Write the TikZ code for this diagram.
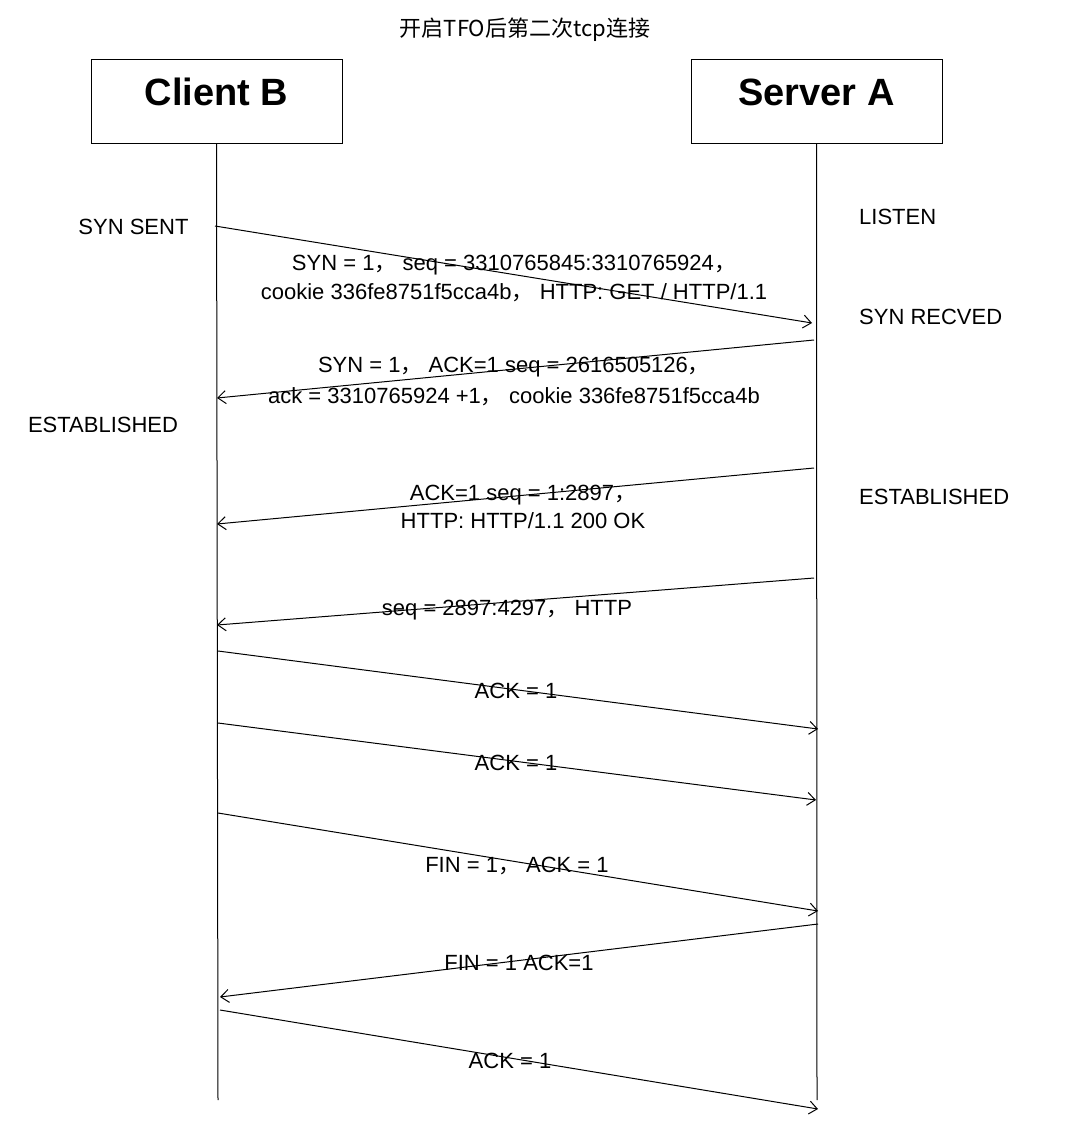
\documentclass[tikz,border=0pt]{standalone}
\usepackage{fontspec}
\setmainfont{Liberation Sans}
\newfontfamily\cjk{Noto Sans CJK SC}
\usetikzlibrary{arrows.meta}
\newcommand{\zc}{{\cjk ，}}

\begin{document}
\begin{tikzpicture}[x=1pt,y=-1pt,
	entity/.style={shape=rectangle,draw,line width=1pt,minimum width=251pt,minimum height=83pt,
		inner sep=0pt,text height=27pt,text depth=19.5pt,font=\bfseries\fontsize{38}{40}\selectfont},
	lifeline/.style={line width=1pt},
	msg/.style={-{Straight Barb[length=8pt,width=13pt]},line width=1pt},
	msglabel/.style={anchor=base,inner sep=0pt,align=center,font=\fontsize{22}{29}\selectfont},
	statelabel/.style={inner sep=0pt,font=\fontsize{22}{26}\selectfont}]
	\useasboundingbox (0,0) rectangle (1080,1129);

		\node (title) at (525,37) [anchor=base,inner sep=0pt,font=\cjk\fontsize{22}{26}\selectfont] {开启TFO后第二次tcp连接};
		\node (client) at (216.5,101.5) [entity] {Client B};
		\node (server) at (816.5,101.5) [entity] {Server A};

		% lifelines
		\coordinate (clientend) at (218,1100);
		\coordinate (serverend) at (817,1100);
		\draw [lifeline] (client.south) -- (clientend);
		\draw [lifeline] (server.south) -- (serverend);

		% states
		\node (synsent) at (133.5,234) [statelabel,anchor=base] {SYN SENT};
		\node (estclient) at (103,432) [statelabel,anchor=base] {ESTABLISHED};
		\node (listen) at (859,224) [statelabel,anchor=base west] {LISTEN};
		\node (synrecved) at (859,324) [statelabel,anchor=base west] {SYN RECVED};
		\node (estserver) at (859,504) [statelabel,anchor=base west] {ESTABLISHED};

		% message end points
		\coordinate (syn1) at (215,226);   \coordinate (syn2) at (812,323);
		\coordinate (synack1) at (814,340); \coordinate (synack2) at (217,398);
		\coordinate (resp1) at (814,468);  \coordinate (resp2) at (217,524);
		\coordinate (data1) at (814,578);  \coordinate (data2) at (217,625);
		\coordinate (acka1) at (218,651);  \coordinate (acka2) at (818,729);
		\coordinate (ackb1) at (218,723);  \coordinate (ackb2) at (816,800);
		\coordinate (fina1) at (218,813);  \coordinate (fina2) at (818,911);
		\coordinate (finb1) at (818,924);  \coordinate (finb2) at (220,997);
		\coordinate (ackc1) at (220,1010); \coordinate (ackc2) at (818,1109);

		\draw [msg] (syn1) -- (syn2);
		\draw [msg] (synack1) -- (synack2);
		\draw [msg] (resp1) -- (resp2);
		\draw [msg] (data1) -- (data2);
		\draw [msg] (acka1) -- (acka2);
		\draw [msg] (ackb1) -- (ackb2);
		\draw [msg] (fina1) -- (fina2);
		\draw [msg] (finb1) -- (finb2);
		\draw [msg] (ackc1) -- (ackc2);

		% message labels (base = last line)
		\node (synlbl) at (514,299) [msglabel] {SYN = 1\zc\ seq = 3310765845:3310765924\zc\\cookie 336fe8751f5cca4b\zc\ HTTP: GET / HTTP/1.1};
		\node (synacklbl) at (514,403) [msglabel] {SYN = 1\zc\ ACK=1 seq = 2616505126\zc\\[2pt]ack = 3310765924 +1\zc\ cookie 336fe8751f5cca4b};
		\node (resplbl) at (523,528) [msglabel] {ACK=1 seq = 1:2897\zc\\[-1pt]HTTP: HTTP/1.1 200 OK};
		\node (datalbl) at (507,615) [msglabel] {seq = 2897:4297\zc\ HTTP};
		\node (ackalbl) at (516,698) [msglabel] {ACK = 1};
		\node (ackblbl) at (516,770) [msglabel] {ACK = 1};
		\node (finalbl) at (517,872) [msglabel] {FIN = 1\zc\ ACK = 1};
		\node (finblbl) at (519,970) [msglabel] {FIN = 1 ACK=1};
		\node (ackclbl) at (510,1068) [msglabel] {ACK = 1};
	\end{tikzpicture}
\end{document}
